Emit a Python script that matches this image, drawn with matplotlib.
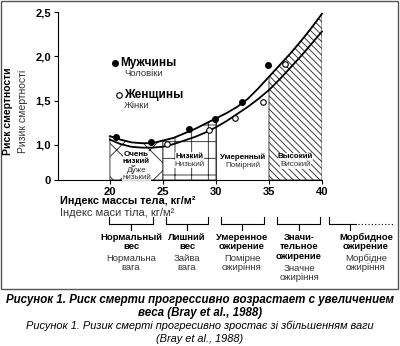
import numpy as np
import matplotlib
matplotlib.use('Agg')
import matplotlib.pyplot as plt
from matplotlib.lines import Line2D
from matplotlib.patches import Rectangle

plt.rcParams['font.family'] = ['Liberation Sans', 'DejaVu Sans']
plt.rcParams['hatch.linewidth'] = 0.6

# кривые риска (ИМТ -> относительный риск)
curve_bmi = [20, 21, 22, 23, 24, 25, 26, 27, 28, 29, 30, 31, 32, 33, 34, 35, 36, 37, 38, 39, 40]
men_curve = [1.10, 1.06, 1.03, 1.02, 1.02, 1.05, 1.08, 1.13, 1.18, 1.24, 1.30, 1.36, 1.43, 1.52,
             1.64, 1.77, 1.90, 2.03, 2.17, 2.32, 2.48]
women_curve = [1.06, 1.01, 0.98, 0.97, 0.97, 0.98, 1.01, 1.05, 1.09, 1.14, 1.20, 1.27, 1.35, 1.43,
               1.52, 1.62, 1.74, 1.87, 2.00, 2.14, 2.28]

# точки наблюдений
men_bmi = [20.6, 23.9, 27.5, 29.9, 32.5, 34.9]
men_risk = [1.09, 1.03, 1.18, 1.29, 1.48, 1.90]
women_bmi = [25.4, 29.3, 31.8, 34.4, 36.5]
women_risk = [1.01, 1.17, 1.30, 1.48, 1.91]

yticks = [1.0, 1.5, 2.0, 2.5]
ytick_labels = ['1,0', '1,5', '2,0', '2,5']
xticks = [20, 25, 30, 35, 40]

zones = [(20, 25, 'x', 'Очень\nнизкий', 'Дуже\nнизький'),
         (25, 30, '+', 'Низкий', 'Низький'),
         (30, 35, None, 'Умеренный', 'Помірний'),
         (35, 40, '\\\\\\\\\\', 'Высокий', 'Високий')]

categories = [('Нормальный\nвес', 'Нормальна\nвага'),
              ('Лишний\nвес', 'Зайва\nвага'),
              ('Умеренное\nожирение', 'Помірне\nожиріння'),
              ('Значи-\nтельное\nожирение', 'Значне\nожиріння'),
              ('Морбидное\nожирение', 'Морбідне\nожиріння')]

W, H = 400, 346
fig = plt.figure(figsize=(W / 100, H / 100), dpi=100)


def px(x, y):
    return x / W, 1 - y / H


ymin = 0.605
ax = fig.add_axes([58 / W, 1 - 180 / H, 264 / W, 168 / H])
ax.set_xlim(15.1, 40)
ax.set_ylim(ymin, 2.5)

cx = np.array(curve_bmi)
cm = np.array(men_curve)
for x0, x1, hatch, ru, ua in zones:
    mask = (cx >= x0) & (cx <= x1)
    if hatch:
        ax.fill_between(cx[mask], ymin, cm[mask], facecolor='white', edgecolor='#222222',
                        hatch=hatch, linewidth=0.6, zorder=1)
    else:
        ax.plot([x0, x0], [ymin, np.interp(x0, cx, cm)], color='#222222', lw=0.6, zorder=1)
        ax.plot([x1, x1], [ymin, np.interp(x1, cx, cm)], color='#222222', lw=0.6, zorder=1)

ax.plot(curve_bmi, men_curve, color='black', lw=1.3, zorder=3, clip_on=False)
ax.plot(curve_bmi, women_curve, color='black', lw=1.3, zorder=3, clip_on=False)
ax.plot(men_bmi, men_risk, 'o', color='black', ms=4, zorder=4)
ax.plot(women_bmi, women_risk, 'o', mfc='white', mec='black', mew=0.8, ms=4, zorder=4)

# подписи зон (центры строк в пикселях сверху)
zone_py = [(158, 174), (156, 164), (157, 165), (157, 165)]
for (x0, x1, hatch, ru, ua), (pr, pu) in zip(zones, zone_py):
    xc = (x0 + x1) / 2
    for txt, py, fw, col in ((ru, pr, 'bold', 'black'), (ua, pu, 'normal', '#333333')):
        ax.text(xc, px(0, py)[1], txt, transform=ax.get_xaxis_transform() if False else
                matplotlib.transforms.blended_transform_factory(ax.transData, fig.transFigure),
                ha='center', va='center', fontsize=5.8, fontweight=fw, color=col,
                linespacing=0.95, zorder=5,
                bbox=dict(fc='white', ec='none', pad=0.1, alpha=0.85))

ax.spines['top'].set_visible(False)
ax.spines['right'].set_visible(False)
ax.set_yticks([ymin] + yticks)
ax.set_yticklabels(['0'] + ytick_labels, fontweight='bold', fontsize=8)
ax.set_xticks(xticks)
ax.set_xticklabels([str(t) for t in xticks], fontweight='bold', fontsize=8)
ax.tick_params(length=3, width=0.8, pad=2)

# легенда
fig.add_artist(Line2D([115 / W], [1 - 63 / H], marker='o', color='black', ms=4, transform=fig.transFigure))
fig.add_artist(Line2D([119 / W], [1 - 95 / H], marker='o', mfc='white', mec='black', mew=0.8, ms=4,
                      transform=fig.transFigure))
fig.text(*px(120, 63), 'Мужчины', fontsize=8.5, fontweight='bold', va='center')
fig.text(*px(124, 74), 'Чоловіки', fontsize=6.8, va='center', color='#333333')
fig.text(*px(124, 95), 'Женщины', fontsize=8.5, fontweight='bold', va='center')
fig.text(*px(124, 106), 'Жінки', fontsize=6.8, va='center', color='#333333')

# подписи осей
fig.text(*px(8, 111), 'Риск смертности', rotation=90, fontsize=7.5, fontweight='bold',
         ha='center', va='center')
fig.text(*px(23, 111), 'Ризик смертності', rotation=90, fontsize=7.5, ha='center', va='center',
         color='#333333')
fig.text(*px(60, 201), 'Индекс массы тела, кг/м²', fontsize=7.8, fontweight='bold', va='center')
fig.text(*px(60, 213), 'Індекс маси тіла, кг/м²', fontsize=8, va='center', color='#333333')

# скобки категорий
brackets = [(109, 153), (166, 208), (221, 264), (277, 320)]
centers = [131, 187, 242, 299, 366]
for (l, r), c in zip(brackets, centers):
    fig.add_artist(Line2D([px(l, 0)[0], px(l, 0)[0], px(r, 0)[0], px(r, 0)[0]],
                          [px(0, 217)[1], px(0, 224)[1], px(0, 224)[1], px(0, 217)[1]],
                          color='black', lw=0.8, transform=fig.transFigure))
    fig.add_artist(Line2D([px(c, 0)[0]] * 2, [px(0, 224)[1], px(0, 230)[1]],
                          color='black', lw=0.8, transform=fig.transFigure))
fig.add_artist(Line2D([px(329, 0)[0], px(329, 0)[0], px(356, 0)[0]],
                      [px(0, 217)[1], px(0, 224)[1], px(0, 224)[1]],
                      color='black', lw=0.8, transform=fig.transFigure))
fig.add_artist(Line2D([px(350, 0)[0]] * 2, [px(0, 224)[1], px(0, 230)[1]],
                      color='black', lw=0.8, transform=fig.transFigure))
fig.add_artist(Line2D([px(358, 0)[0], px(393, 0)[0]], [px(0, 224)[1]] * 2,
                      color='black', lw=0.8, ls=(0, (1, 2)), transform=fig.transFigure))

for (ru, ua), c in zip(categories, centers):
    n = ru.count('\n') + 1
    fig.text(*px(c, 233), ru, fontsize=6.8, fontweight='bold', ha='center', va='top',
             linespacing=1.05)
    fig.text(*px(c, 233 + 10.3 * n), ua, fontsize=6.8, ha='center', va='top',
             linespacing=1.05, color='#333333')

# рамка
fig.add_artist(Rectangle(px(1, 289), 397 / W, 288.5 / H, fill=False, ec='#555555', lw=1,
                         transform=fig.transFigure))

# подпись рисунка
fig.text(*px(200, 300), 'Рисунок 1. Риск смерти прогрессивно возрастает с увеличением',
         fontsize=8.3, fontweight='bold', style='italic', ha='center', va='center')
fig.text(*px(200, 313), 'веса (Bray et al., 1988)', fontsize=8.3, fontweight='bold',
         style='italic', ha='center', va='center')
fig.text(*px(200, 326), 'Рисунок 1. Ризик смерті прогресивно зростає зі збільшенням ваги',
         fontsize=7.9, style='italic', ha='center', va='center')
fig.text(*px(200, 339), '(Bray et al., 1988)', fontsize=7.9, style='italic',
         ha='center', va='center')

fig.savefig('out.png', dpi=100)
